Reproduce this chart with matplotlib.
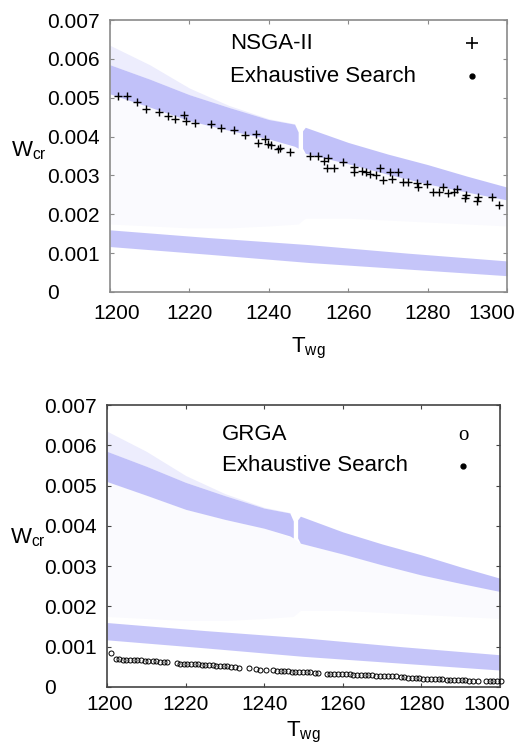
import numpy as np
import matplotlib

matplotlib.use("Agg")
import matplotlib.pyplot as plt
from matplotlib.transforms import ScaledTranslation

plt.rcParams["font.family"] = ["Liberation Sans", "DejaVu Sans"]
plt.rcParams["mathtext.fontset"] = "custom"
plt.rcParams["mathtext.rm"] = "Liberation Sans"

# ── Exhaustive search cloud: band envelopes ──
EX_LEFT_T = [1200, 1210, 1220, 1230, 1240, 1246.5, 1247.4]
EX_LEFT_HI = [0.00585, 0.00548, 0.00508, 0.00475, 0.00444, 0.00432, 0.00412]
EX_LEFT_LO = [0.00510, 0.00476, 0.00441, 0.00416, 0.00394, 0.00375, 0.00370]
EX_LEFT_FRINGE = [0.00635, 0.00585, 0.00525, 0.00480, 0.00446, 0.00433, 0.00412]

EX_RIGHT_T = [1248.5, 1249.2, 1260, 1270, 1280, 1290, 1300]
EX_RIGHT_HI = [0.00415, 0.00424, 0.00385, 0.00355, 0.00328, 0.00298, 0.00270]
EX_RIGHT_LO = [0.00370, 0.00357, 0.00330, 0.00303, 0.00278, 0.00257, 0.00237]

EX_LOW_T = [1200, 1225, 1250, 1275, 1300]
EX_LOW_HI = [0.00160, 0.00140, 0.00122, 0.00100, 0.00080]
EX_LOW_LO = [0.00117, 0.00097, 0.00076, 0.00059, 0.00042]

# sparse scatter underneath the upper band
SPARSE_T = [1200, 1210, 1220, 1230, 1240, 1247.4, 1249.2, 1260, 1270, 1280, 1290, 1300]
SPARSE_HI = [0.00510, 0.00476, 0.00441, 0.00416, 0.00394, 0.00370,
             0.00357, 0.00330, 0.00303, 0.00278, 0.00257, 0.00237]
SPARSE_LO = [0.00175, 0.00170, 0.00165, 0.00165, 0.00170, 0.00175,
             0.00190, 0.00190, 0.00185, 0.00180, 0.00175, 0.00170]

# ── NSGA-II front ──
NSGA_T = [1202.1, 1204.4, 1206.7, 1209.1, 1212.4, 1214.7, 1216.4, 1218.6, 1219.1,
          1221.4, 1225.4, 1227.9, 1231.3, 1234.0, 1236.7, 1237.4, 1239.0, 1239.7,
          1240.6, 1242.2, 1242.8, 1245.3,
          1250.4, 1252.5, 1254.0, 1255.0, 1254.7, 1256.5, 1258.8, 1261.5, 1261.5,
          1263.6, 1264.5, 1265.5, 1267.0, 1268.0, 1268.8, 1270.5, 1271.1, 1272.5,
          1273.9, 1275.1, 1277.3, 1277.5, 1279.9, 1281.3, 1282.9, 1283.8, 1285.2,
          1286.7, 1287.5, 1289.6, 1289.4, 1292.4, 1292.8, 1296.1, 1298.0]
NSGA_W = [0.00505, 0.00505, 0.00488, 0.00471, 0.00464, 0.00453, 0.00446, 0.00455, 0.00441,
          0.00436, 0.00432, 0.00423, 0.00417, 0.00404, 0.00407, 0.00384, 0.00393, 0.00380,
          0.00378, 0.00367, 0.00370, 0.00361,
          0.00351, 0.00351, 0.00338, 0.00344, 0.00318, 0.00320, 0.00334, 0.00321, 0.00308,
          0.00311, 0.00308, 0.00303, 0.00301, 0.00320, 0.00288, 0.00308, 0.00290, 0.00308,
          0.00284, 0.00282, 0.00281, 0.00271, 0.00278, 0.00257, 0.00258, 0.00269, 0.00254,
          0.00258, 0.00265, 0.00250, 0.00241, 0.00235, 0.00244, 0.00244, 0.00224]

# ── GRGA front ──
GRGA_T = [1201.0, 1202.2, 1203.1, 1204.0, 1204.9, 1205.8, 1206.8, 1207.7, 1208.7,
          1209.6, 1210.5, 1211.6, 1212.5, 1213.5, 1214.4, 1215.3, 1217.7, 1218.6,
          1219.5, 1220.4, 1221.3, 1222.3, 1223.2, 1224.1, 1225.0, 1226.0, 1226.9,
          1227.8, 1228.8, 1229.7, 1230.6, 1231.6, 1232.5, 1233.6, 1236.0, 1238.0,
          1239.0, 1240.4, 1242.3, 1243.2, 1244.2, 1245.1, 1246.0, 1247.0, 1247.9,
          1248.9, 1249.8, 1250.8, 1251.7, 1252.8, 1253.8, 1255.9, 1256.8, 1257.8,
          1258.8, 1259.8, 1260.8, 1261.8, 1262.7, 1263.7, 1264.6, 1265.6, 1266.5,
          1267.5, 1268.5, 1269.4, 1270.4, 1271.4, 1272.4, 1273.5, 1274.7, 1275.6,
          1276.6, 1277.6, 1278.5, 1279.5, 1280.5, 1281.5, 1282.4, 1283.4, 1284.4,
          1285.3, 1286.4, 1287.3, 1288.3, 1289.2, 1290.2, 1291.2, 1292.2, 1293.2,
          1294.4, 1296.4, 1297.4, 1298.3, 1299.3, 1300.3]
GRGA_W = [0.00085, 0.00070, 0.00069, 0.00068, 0.00068, 0.00067, 0.00067, 0.00066, 0.00066,
          0.00065, 0.00065, 0.00064, 0.00064, 0.00063, 0.00062, 0.00061, 0.00059, 0.00058,
          0.00058, 0.00057, 0.00057, 0.00056, 0.00056, 0.00055, 0.00055, 0.00054, 0.00054,
          0.00053, 0.00052, 0.00052, 0.00051, 0.00050, 0.00049, 0.00047, 0.00046, 0.00044,
          0.00043, 0.00042, 0.00041, 0.00040, 0.00040, 0.00039, 0.00039, 0.00038, 0.00038,
          0.00037, 0.00037, 0.00036, 0.00036, 0.00035, 0.00034, 0.00033, 0.00033, 0.00032,
          0.00032, 0.00032, 0.00031, 0.00031, 0.00030, 0.00030, 0.00030, 0.00029, 0.00029,
          0.00029, 0.00028, 0.00028, 0.00028, 0.00027, 0.00027, 0.00027, 0.00024, 0.00024,
          0.00023, 0.00023, 0.00022, 0.00022, 0.00021, 0.00021, 0.00020, 0.00020, 0.00019,
          0.00019, 0.00018, 0.00018, 0.00017, 0.00017, 0.00017, 0.00017, 0.00016, 0.00016,
          0.00016, 0.00015, 0.00015, 0.00015, 0.00014, 0.00014]

Y_TICKS = [0, 0.001, 0.002, 0.003, 0.004, 0.005, 0.006, 0.007]
Y_LABELS = ["0", "0.001", "0.002", "0.003", "0.004", "0.005", "0.006", "0.007"]
X_TICKS = [1200, 1220, 1240, 1260, 1280, 1300]

BAND = "#adadf7"


def draw_cloud(ax):
    # faint scatter below the upper band
    ax.fill_between(SPARSE_T, SPARSE_LO, SPARSE_HI, color=BAND, alpha=0.06, lw=0)
    # faint spread above the band on the left
    ax.fill_between(EX_LEFT_T, EX_LEFT_HI, EX_LEFT_FRINGE, color=BAND, alpha=0.22, lw=0)
    # dense cores
    ax.fill_between(EX_LEFT_T, EX_LEFT_LO, EX_LEFT_HI, color=BAND, alpha=0.75, lw=0)
    ax.fill_between(EX_RIGHT_T, EX_RIGHT_LO, EX_RIGHT_HI, color=BAND, alpha=0.75, lw=0)
    ax.fill_between(EX_LOW_T, EX_LOW_LO, EX_LOW_HI, color=BAND, alpha=0.7, lw=0)


def style_axes(ax, frame_color, xpad, shift_first, shift_last):
    ax.set_xlim(1200, 1300)
    ax.set_ylim(0, 0.007)
    ax.set_xticks(X_TICKS)
    ax.set_yticks(Y_TICKS)
    ax.set_yticklabels(Y_LABELS)
    ax.tick_params(direction="in", top=True, right=True, length=3, width=0.8,
                   color=frame_color, labelsize=15)
    ax.tick_params(axis="y", pad=45)
    ax.tick_params(axis="x", pad=xpad)
    for lab in ax.get_yticklabels():
        lab.set_horizontalalignment("left")
    xlabs = ax.get_xticklabels()
    xlabs[0].set_transform(xlabs[0].get_transform() +
                           ScaledTranslation(shift_first / 100, 0, fig.dpi_scale_trans))
    xlabs[-1].set_transform(xlabs[-1].get_transform() +
                            ScaledTranslation(shift_last / 100, 0, fig.dpi_scale_trans))
    for sp in ax.spines.values():
        sp.set_color(frame_color)
        sp.set_linewidth(1.2)
    ax.set_xlabel(r"T$_{\mathregular{wg}}$", fontsize=16, labelpad=0)
    ax.set_ylabel(r"W$_{\mathregular{cr}}$", fontsize=16, rotation=0, va="center", ha="center")


fig = plt.figure(figsize=(5.2, 7.43), dpi=100)

# ── top: NSGA-II ──
ax1 = fig.add_axes([0.2115, 0.607, 0.7635, 0.366])
draw_cloud(ax1)
ax1.plot(NSGA_T, NSGA_W, "+", color="black", markersize=6, markeredgewidth=1.0, zorder=4)
style_axes(ax1, "#8a8a8a", 9, 7, -15)
ax1.yaxis.set_label_coords(-0.205, 0.52)
ax1.xaxis.set_label_coords(0.5, -0.16)
ax1.text(0.302, 0.915, "NSGA-II", transform=ax1.transAxes, fontsize=16, va="center")
ax1.text(0.302, 0.794, "Exhaustive Search", transform=ax1.transAxes, fontsize=16, va="center")
ax1.plot([0.912], [0.915], "+", color="black", markersize=8, markeredgewidth=1.2,
         transform=ax1.transAxes, clip_on=False)
ax1.plot([0.912], [0.794], "o", color="black", markersize=3.5, transform=ax1.transAxes)

# ── bottom: GRGA ──
ax2 = fig.add_axes([0.2058, 0.0754, 0.7558, 0.3795])
draw_cloud(ax2)
ax2.plot(GRGA_T, GRGA_W, "o", markerfacecolor="none", markeredgecolor="black",
         markersize=3.6, markeredgewidth=0.7, zorder=4, clip_on=False)
style_axes(ax2, "#444444", 6, 3, -13)
ax2.yaxis.set_label_coords(-0.2, 0.53)
ax2.xaxis.set_label_coords(0.5, -0.115)
ax2.text(0.292, 0.896, "GRGA", transform=ax2.transAxes, fontsize=16, va="center")
ax2.text(0.292, 0.785, "Exhaustive Search", transform=ax2.transAxes, fontsize=16, va="center")
ax2.text(0.907, 0.893, "o", transform=ax2.transAxes, fontsize=15, ha="center", va="center",
         family=["Liberation Serif", "DejaVu Serif"])
ax2.plot([0.907], [0.785], "o", color="black", markersize=3.5, transform=ax2.transAxes)

fig.savefig("out.png", dpi=100)
